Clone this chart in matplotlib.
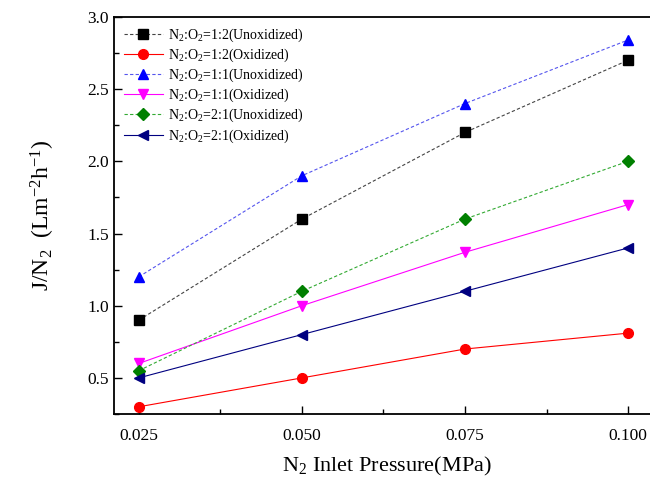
import matplotlib
matplotlib.use("Agg")
import matplotlib.pyplot as plt
from matplotlib.ticker import MultipleLocator

plt.rcParams['font.family'] = ['Liberation Serif']
plt.rcParams['mathtext.fontset'] = 'custom'
plt.rcParams['mathtext.rm'] = 'Liberation Serif'
plt.rcParams['mathtext.it'] = 'Liberation Serif:italic'

# inlet pressure (MPa)
pressure = [0.025, 0.050, 0.075, 0.100]

# N2 permeation flux for each gas ratio / oxidation state
flux_12_unox = [0.90, 1.60, 2.20, 2.70]
flux_12_ox = [0.30, 0.50, 0.70, 0.81]
flux_11_unox = [1.20, 1.90, 2.40, 2.84]
flux_11_ox = [0.60, 1.00, 1.37, 1.70]
flux_21_unox = [0.55, 1.10, 1.60, 2.00]
flux_21_ox = [0.50, 0.80, 1.10, 1.40]

labels = [
    'N$_2$:O$_2$=1:2(Unoxidized)',
    'N$_2$:O$_2$=1:2(Oxidized)',
    'N$_2$:O$_2$=1:1(Unoxidized)',
    'N$_2$:O$_2$=1:1(Oxidized)',
    'N$_2$:O$_2$=2:1(Unoxidized)',
    'N$_2$:O$_2$=2:1(Oxidized)',
]
xtick_labels = ['0.025', '0.050', '0.075', '0.100']

series = [flux_12_unox, flux_12_ox, flux_11_unox, flux_11_ox, flux_21_unox, flux_21_ox]
styles = [
    ('black', 's', '--', '#444444'),
    ('red', 'o', '-', 'red'),
    ('blue', '^', '--', '#5555ee'),
    ('magenta', 'v', '-', 'magenta'),
    ('green', 'D', '--', '#33aa33'),
    ('navy', '<', '-', 'navy'),
]

fig = plt.figure(figsize=(6.5, 4.79), dpi=100)
ax = fig.add_axes([0.1754, 0.1357, 0.84, 0.829])

for y, lab, (mc, mk, ls, lc) in zip(series, labels, styles):
    ms = 7 if mk != 'D' else 6
    ax.plot(pressure, y, color=lc, linestyle=ls, linewidth=0.8,
            marker=mk, markersize=ms, markerfacecolor=mc, markeredgecolor=mc,
            label=lab, dashes=(3, 2) if ls == '--' else (None, None))

ax.set_xlim(0.0212, 0.0212 + 0.84 / 0.829 * (0.1038 - 0.0212))
ax.set_ylim(0.25, 3.0)
ax.set_xticks(pressure)
ax.set_xticklabels(xtick_labels)
ax.xaxis.set_minor_locator(MultipleLocator(0.0125))
ax.yaxis.set_major_locator(MultipleLocator(0.5))
ax.yaxis.set_minor_locator(MultipleLocator(0.25))
ax.tick_params(which='both', direction='in', labelsize=12.5)
ax.tick_params(which='major', length=6, width=1)
ax.tick_params(which='minor', length=3.5, width=1)
ax.tick_params(axis='x', pad=10)
ax.spines['right'].set_visible(False)
for sp in ax.spines.values():
    sp.set_linewidth(1.3)

ax.set_xlabel('N$_2$ Inlet Pressure(MPa)', fontsize=16, labelpad=8)
ax.set_ylabel('J/N$_2$  (Lm$^{-2}$h$^{-1}$)', fontsize=17, labelpad=22)

ax.legend(loc='upper left', frameon=False, fontsize=10, handlelength=2.8,
          labelspacing=0.2, borderaxespad=0.3, handletextpad=0.4)

fig.savefig('out.png', dpi=100)
